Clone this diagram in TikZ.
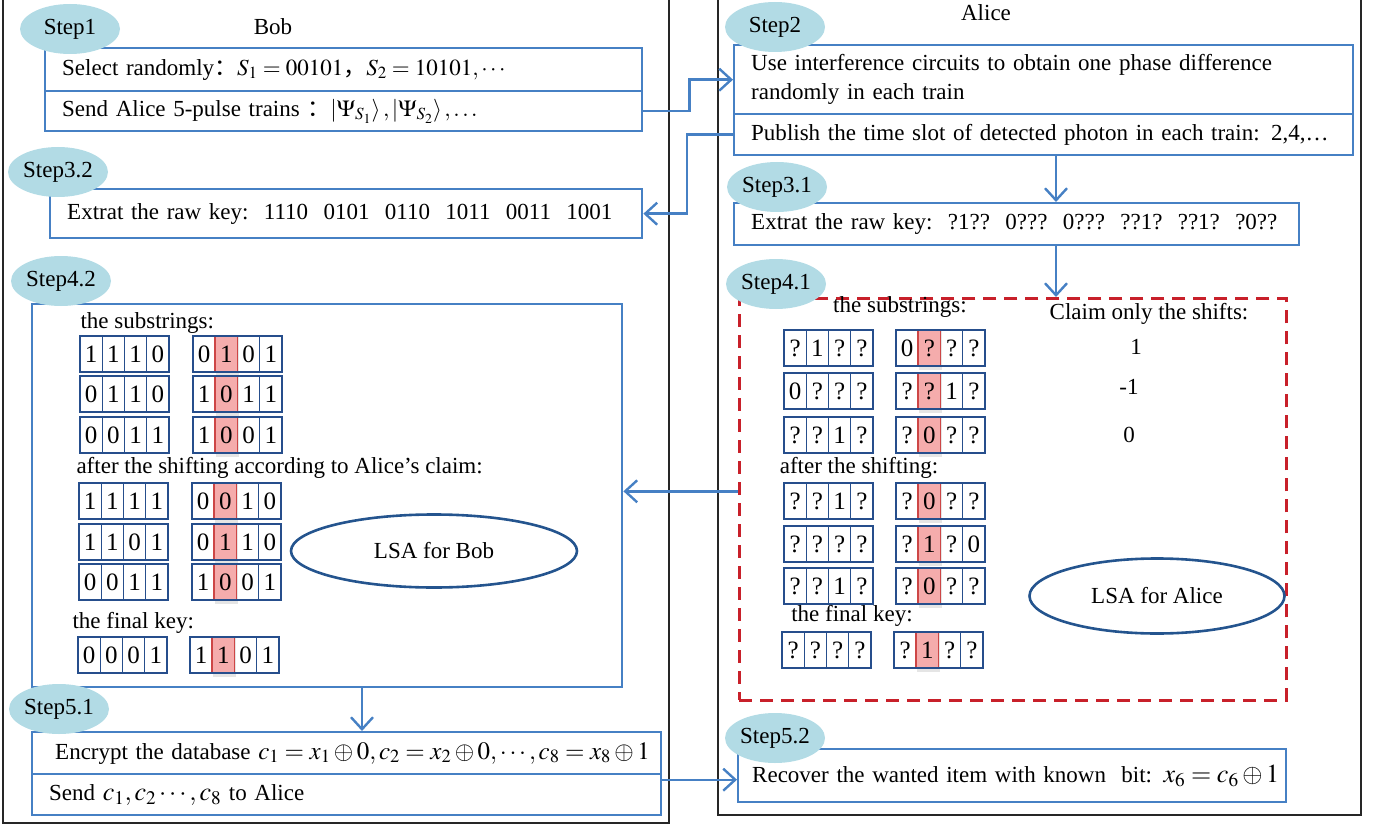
\documentclass[tikz,border=0pt]{standalone}
\usepackage{mathptmx}
\usepackage{fontspec}
\setmainfont{Liberation Serif}
\newfontfamily\cjk{Noto Sans CJK SC}
\usetikzlibrary{arrows.meta,shapes.geometric}

\definecolor{boxblue}{RGB}{70,128,196}
\definecolor{stepfill}{RGB}{178,219,229}
\definecolor{lsablue}{RGB}{36,84,142}
\definecolor{cellblue}{RGB}{38,78,140}
\definecolor{dashred}{RGB}{200,32,42}
\definecolor{hotfill}{RGB}{245,172,172}
\definecolor{hotline}{RGB}{205,70,70}

\newcommand{\bodyfont}{\fontsize{23}{29}\selectfont}
\newcommand{\labelfont}{\fontsize{23}{26}\selectfont}
\newcommand{\digitfont}{\fontsize{25}{26}\selectfont}
\newcommand{\bigmath}{\fontsize{26}{30}\selectfont}
\newcommand{\midmath}{\fontsize{25}{30}\selectfont}

% one group of four bit cells: name, left x, centre y, digits, red cell (0 = none)
\newcommand{\bitgroup}[5]{%
  \ifnum#5>0
    \fill[black!10] ({#2+(#5-1)*22.25+1},{#3-17}) rectangle ++(22.25,39);
    \fill[hotfill] ({#2+(#5-1)*22.25},{#3-18}) rectangle ++(22.25,36);
  \fi
  \foreach \d [count=\i] in {#4}
    \node[cell] (#1-\i) at ({#2+(\i-0.5)*22.25},#3) {\d};
  \ifnum#5>0
    \draw[hotline,line width=1.6pt] ({#2+(#5-1)*22.25},{#3-18}) rectangle ++(22.25,36);
  \fi
  \draw[cellblue,line width=2pt] (#2,{#3-18}) rectangle ++(89,36);
}

\begin{document}
\begin{tikzpicture}[x=1pt,y=-1pt,font=\bodyfont,
  frame/.style={draw=black!85,line width=2pt},
  stepbox/.style={draw=boxblue,line width=2.4pt,anchor=north west,align=left,inner xsep=17pt,inner ysep=1pt},
  steplabel/.style={ellipse,fill=stepfill,minimum width=100pt,minimum height=50pt,inner sep=0pt,font=\labelfont},
  cell/.style={draw=cellblue,line width=1.3pt,minimum width=22.25pt,minimum height=36pt,inner sep=0pt,font=\digitfont},
  lsa/.style={ellipse,draw=lsablue,line width=2.6pt,inner sep=0pt},
  arrow/.style={draw=boxblue,line width=2.4pt,-{Straight Barb[length=12pt,width=22pt]}}]
\useasboundingbox (0,0) rectangle (1380,826);

% frames of Bob and Alice
\draw[frame] (3,-5) -- (3,823) -- (669,823) -- (669,-5);
\draw[frame] (718,-5) -- (718,815) -- (1361,815) -- (1361,-5);
\node (bob) at (273,27) {Bob};
\node (alice) at (986,13) {Alice};

% step 1 and step 2
\node[stepbox,text width=563pt,minimum height=43pt] (s1a) at (44,47)
  {\mbox{Select randomly{\cjk ：}$S_1=00101${\cjk ，}$S_2=10101,\cdots$}};
\node[stepbox,text width=563pt,minimum height=40pt] (s1b) at (44,90)
  {\mbox{Send Alice 5-pulse trains {\cjk ：}$\left|\Psi_{S_1}\right\rangle,\left|\Psi_{S_2}\right\rangle,\ldots$}};
\node[stepbox,text width=585pt,minimum height=69pt] (s2a) at (733,44)
  {Use interference circuits to obtain one phase difference\\randomly in each train};
\node[stepbox,text width=585pt,minimum height=41pt] (s2b) at (733,113)
  {\mbox{Publish the time slot of detected photon in each train: 2,4,…}};

% step 3
\node[stepbox,text width=558pt,minimum height=49pt] (s32) at (49,188)
  {\mbox{Extrat the raw key:\ \ 1110\ \ 0101\ \ 0110\ \ 1011\ \ 0011\ \ 1001}};
\node[stepbox,text width=531pt,minimum height=42pt] (s31) at (733,202)
  {\mbox{Extrat the raw key:\ \ ?1??\ \ 0???\ \ 0???\ \ ??1?\ \ ??1?\ \ ?0??}};

% step 4
\node[draw=boxblue,line width=2.4pt,anchor=north west,minimum width=590pt,minimum height=383pt] (s42) at (31,303) {};
\node[draw=dashred,line width=2.6pt,dash pattern=on 13pt off 8pt,anchor=north west,minimum width=547pt,minimum height=402pt] (s41) at (738,297) {};

% Bob's strings
\node[anchor=west] (bsub) at (77,323) {the substrings:};
\bitgroup{b1}{80}{354}{1,1,1,0}{0}
\bitgroup{b2}{193}{354}{0,1,0,1}{2}
\bitgroup{b3}{80}{394}{0,1,1,0}{0}
\bitgroup{b4}{193}{394}{1,0,1,1}{2}
\bitgroup{b5}{80}{435}{0,0,1,1}{0}
\bitgroup{b6}{193}{435}{1,0,0,1}{2}
\node[anchor=west] (bshift) at (73,468) {after the shifting according to Alice’s claim:};
\bitgroup{b7}{79}{501}{1,1,1,1}{0}
\bitgroup{b8}{192}{501}{0,0,1,0}{2}
\bitgroup{b9}{79}{542}{1,1,0,1}{0}
\bitgroup{b10}{192}{542}{0,1,1,0}{2}
\bitgroup{b11}{79}{582}{0,0,1,1}{0}
\bitgroup{b12}{192}{582}{1,0,0,1}{2}
\node[anchor=west] (bfinal) at (69,623) {the final key:};
\bitgroup{b13}{78}{655}{0,0,0,1}{0}
\bitgroup{b14}{190}{655}{1,1,0,1}{2}
\node[lsa,minimum width=286pt,minimum height=73pt] (lsab) at (434,551) {LSA for Bob};

% Alice's strings
\node (asub) at (900,307) {the substrings:};
\node (claim) at (1149,314) {Claim only the shifts:};
\bitgroup{a1}{784}{348}{?,1,?,?}{0}
\bitgroup{a2}{896}{348}{0,?,?,?}{2}
\bitgroup{a3}{784}{391}{0,?,?,?}{0}
\bitgroup{a4}{896}{391}{?,?,1,?}{2}
\bitgroup{a5}{784}{435}{?,?,1,?}{0}
\bitgroup{a6}{896}{435}{?,0,?,?}{2}
\node (sh1) at (1136,347) {1};
\node (sh2) at (1129,387) {-1};
\node (sh3) at (1129,435) {0};
\node (ashift) at (859,468) {after the shifting:};
\bitgroup{a7}{784}{501}{?,?,1,?}{0}
\bitgroup{a8}{896}{501}{?,0,?,?}{2}
\bitgroup{a9}{784}{544}{?,?,?,?}{0}
\bitgroup{a10}{896}{544}{?,1,?,0}{2}
\bitgroup{a11}{784}{586}{?,?,1,?}{0}
\bitgroup{a12}{896}{586}{?,0,?,?}{2}
\node (afinal) at (852,616) {the final key:};
\bitgroup{a13}{782}{650}{?,?,?,?}{0}
\bitgroup{a14}{894}{650}{?,1,?,?}{2}
\node[lsa,minimum width=255pt,minimum height=75pt] (lsaa) at (1157,596) {LSA for Alice};

% step 5
\node[stepbox,text width=595pt,minimum height=42pt] (s51a) at (31,731)
  {\mbox{\hspace{6pt}Encrypt the database {\midmath$c_1=x_1\oplus 0,c_2=x_2\oplus 0,\cdots,c_8=x_8\oplus 1$}}};
\node[stepbox,text width=595pt,minimum height=41pt] (s51b) at (31,773)
  {\mbox{Send {\bigmath$c_1,c_2\cdots,c_8$} to Alice}};
\node[stepbox,text width=520pt,minimum height=53pt,inner xsep=14pt] (s52) at (737,748)
  {\mbox{Recover the wanted item with known\ \ bit: {\bigmath$x_6=c_6\oplus 1$}}};

% step labels
\node[steplabel] (st1) at (70,29) {Step1};
\node[steplabel] (st2) at (775,27) {Step2};
\node[steplabel] (st32) at (58,172) {Step3.2};
\node[steplabel] (st31) at (777,187) {Step3.1};
\node[steplabel] (st42) at (61,281) {Step4.2};
\node[steplabel] (st41) at (776,284) {Step4.1};
\node[steplabel] (st51) at (59,709) {Step5.1};
\node[steplabel] (st52) at (775,738) {Step5.2};

% arrows
\coordinate (acol) at (1056,0);
\coordinate (bcol) at (362,0);
\draw[arrow] (s1b.east) -- ++(46,0) |- (s2a.west);
\draw[arrow] (s2b.west) -- ++(-46,0) |- (s32.east);
\draw[arrow] (s2b.south -| acol) -- (s31.north -| acol);
\draw[arrow] (s31.south -| acol) -- (s41.north -| acol);
\draw[arrow] ([yshift=8pt]s41.west) -- ([yshift=8pt]s41.west -| s42.east);
\draw[arrow] (s42.south -| bcol) -- (s51a.north -| bcol);
\draw[arrow] ([yshift=-4pt]s52.west -| s51b.east) -- ([yshift=-4pt]s52.west);
\end{tikzpicture}
\end{document}
